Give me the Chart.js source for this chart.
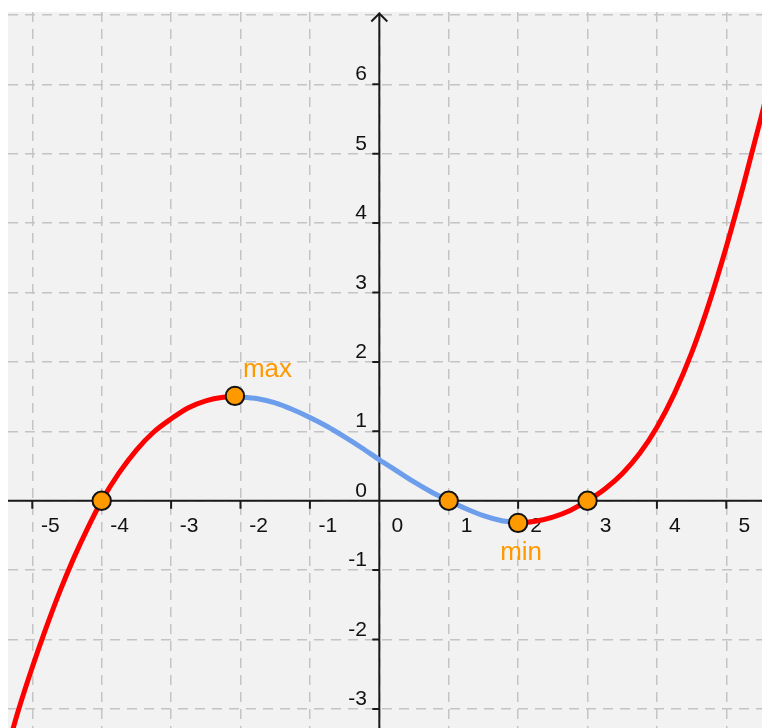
<!DOCTYPE html>
<html>
<head>
<meta charset="utf-8">
<script src="https://cdn.jsdelivr.net/npm/chart.js@4.4.0/dist/chart.umd.min.js"></script>
<style>
    html, body { margin: 0; padding: 0; background: #ffffff; }
    #wrap { width: 762px; height: 728px; }
</style>
</head>
<body>
<div id="wrap"><canvas id="graph"></canvas></div>
<script>
// --- Values ---
const xTicks = [-5, -4, -3, -2, -1, 0, 1, 2, 3, 4, 5];
const yTicks = [-3, -2, -1, 0, 1, 2, 3, 4, 5, 6, 7];   // 7 has a grid line but no label

// red branch left of the maximum
const leftX = [-5.4, -5.2, -5.0, -4.8, -4.6, -4.4, -4.2, -4.0, -3.75, -3.5, -3.25, -3.0, -2.75, -2.5, -2.25, -2.08];
const leftY = [-3.72, -3.02, -2.4, -1.83, -1.3, -0.82, -0.39, 0, 0.4, 0.73, 0.99, 1.18, 1.34, 1.44, 1.49, 1.5];

// blue part between maximum and minimum
const midX = [-2.08, -1.75, -1.5, -1.25, -1.0, -0.75, -0.5, -0.25, 0, 0.25, 0.5, 0.75, 1.0, 1.25, 1.5, 1.75, 2.0];
const midY = [1.5, 1.47, 1.41, 1.315, 1.2, 1.07, 0.92, 0.76, 0.59, 0.43, 0.27, 0.125, 0, -0.115, -0.215, -0.285, -0.32];

// red branch right of the minimum
const rightX = [2.0, 2.25, 2.5, 2.75, 3.0, 3.25, 3.5, 3.75, 4.0, 4.25, 4.5, 4.75, 5.0, 5.25, 5.5, 5.75];
const rightY = [-0.32, -0.295, -0.235, -0.14, 0, 0.17, 0.39, 0.68, 1.06, 1.54, 2.13, 2.84, 3.66, 4.56, 5.52, 6.53];

// marked points: roots, max, min
const markX = [-4, -2.08, 1, 2, 3];
const markY = [0, 1.51, 0, -0.32, 0];
const markText = ['', 'max', '', 'min', ''];

const toPoints = (xs, ys) => xs.map((x, i) => ({ x: x, y: ys[i] }));

const RED = '#ff0000';
const BLUE = '#6d9eeb';
const ORANGE = '#ff9900';
const FONT = "'Liberation Sans', Arial, sans-serif";

// background of the plot area
const areaBg = {
    id: 'areaBg',
    beforeDraw(chart) {
        const { ctx, chartArea: a } = chart;
        ctx.save();
        ctx.fillStyle = '#f2f2f2';
        ctx.fillRect(a.left, a.top, a.right - a.left, a.bottom - a.top);
        ctx.restore();
    }
};

// axes through the origin, tick marks, tick labels, arrow
const axes = {
    id: 'axes',
    beforeDatasetsDraw(chart) {
        const { ctx, chartArea: a, scales } = chart;
        const x0 = scales.x.getPixelForValue(0);
        const y0 = scales.y.getPixelForValue(0);
        ctx.save();
        ctx.strokeStyle = '#1a1a1a';
        ctx.lineWidth = 2;

        ctx.beginPath();
        ctx.moveTo(a.left, y0);
        ctx.lineTo(a.right, y0);
        ctx.moveTo(x0, a.bottom);
        ctx.lineTo(x0, a.top + 1.5);
        // arrow head
        ctx.moveTo(x0 - 8, a.top + 9.5);
        ctx.lineTo(x0, a.top + 1.5);
        ctx.lineTo(x0 + 8, a.top + 9.5);
        ctx.stroke();

        ctx.beginPath();
        xTicks.forEach(v => {
            if (v === 0) return;
            const px = scales.x.getPixelForValue(v);
            ctx.moveTo(px, y0);
            ctx.lineTo(px, y0 + 8);
        });
        yTicks.forEach(v => {
            if (v === 0 || v === 7) return;
            const py = scales.y.getPixelForValue(v);
            ctx.moveTo(x0, py);
            ctx.lineTo(x0 - 7, py);
        });
        ctx.stroke();

        ctx.fillStyle = '#111111';
        ctx.font = '21px ' + FONT;
        ctx.textBaseline = 'alphabetic';
        ctx.textAlign = 'center';
        xTicks.forEach(v => {
            ctx.fillText(String(v), scales.x.getPixelForValue(v) + 18, y0 + 31);
        });
        ctx.textAlign = 'right';
        yTicks.forEach(v => {
            if (v === 7) return;
            ctx.fillText(String(v), x0 - 12.5, scales.y.getPixelForValue(v) - 4);
        });
        ctx.restore();
    },
    afterDatasetsDraw(chart) {
        const { ctx, scales } = chart;
        ctx.save();
        ctx.fillStyle = ORANGE;
        ctx.font = '26px ' + FONT;
        markText.forEach((t, i) => {
            if (!t) return;
            const px = scales.x.getPixelForValue(markX[i]);
            const py = scales.y.getPixelForValue(markY[i]);
            if (t === 'max') {
                ctx.textAlign = 'left';
                ctx.fillText(t, px + 8, py - 19);
            } else {
                ctx.textAlign = 'center';
                ctx.fillText(t, px + 3, py + 37);
            }
        });
        ctx.restore();
    }
};

const curve = (label, data, color) => ({
    type: 'line',
    label: label,
    data: data,
    borderColor: color,
    borderWidth: 5,
    pointRadius: 0,
    fill: false,
    cubicInterpolationMode: 'monotone',
    order: 1
});

new Chart(document.getElementById('graph'), {
    type: 'scatter',
    data: {
        datasets: [
            {
                label: 'points',
                data: toPoints(markX, markY),
                pointRadius: 9.2,
                pointBackgroundColor: ORANGE,
                pointBorderColor: '#111111',
                pointBorderWidth: 2,
                showLine: false,
                order: 0
            },
            curve('left', toPoints(leftX, leftY), RED),
            curve('middle', toPoints(midX, midY), BLUE),
            curve('right', toPoints(rightX, rightY), RED)
        ]
    },
    options: {
        responsive: true,
        maintainAspectRatio: false,
        animation: false,
        layout: { autoPadding: false, padding: { left: 8, top: 12, right: 0, bottom: 0 } },
        plugins: {
            legend: { display: false },
            tooltip: { enabled: false }
        },
        scales: {
            x: {
                type: 'linear',
                min: -5.35,
                max: 5.514,
                afterBuildTicks: (scale) => { scale.ticks = xTicks.map(v => ({ value: v })); },
                ticks: { display: false },
                grid: { color: '#c4c4c4', lineWidth: 1.5, drawTicks: false },
                border: { display: false, dash: [10, 7] }
            },
            y: {
                type: 'linear',
                min: -3.275,
                max: 7.042,
                afterBuildTicks: (scale) => { scale.ticks = yTicks.map(v => ({ value: v })); },
                ticks: { display: false },
                grid: { color: '#c4c4c4', lineWidth: 1.5, drawTicks: false },
                border: { display: false, dash: [10, 7] }
            }
        }
    },
    plugins: [areaBg, axes]
});
</script>
</body>
</html>
